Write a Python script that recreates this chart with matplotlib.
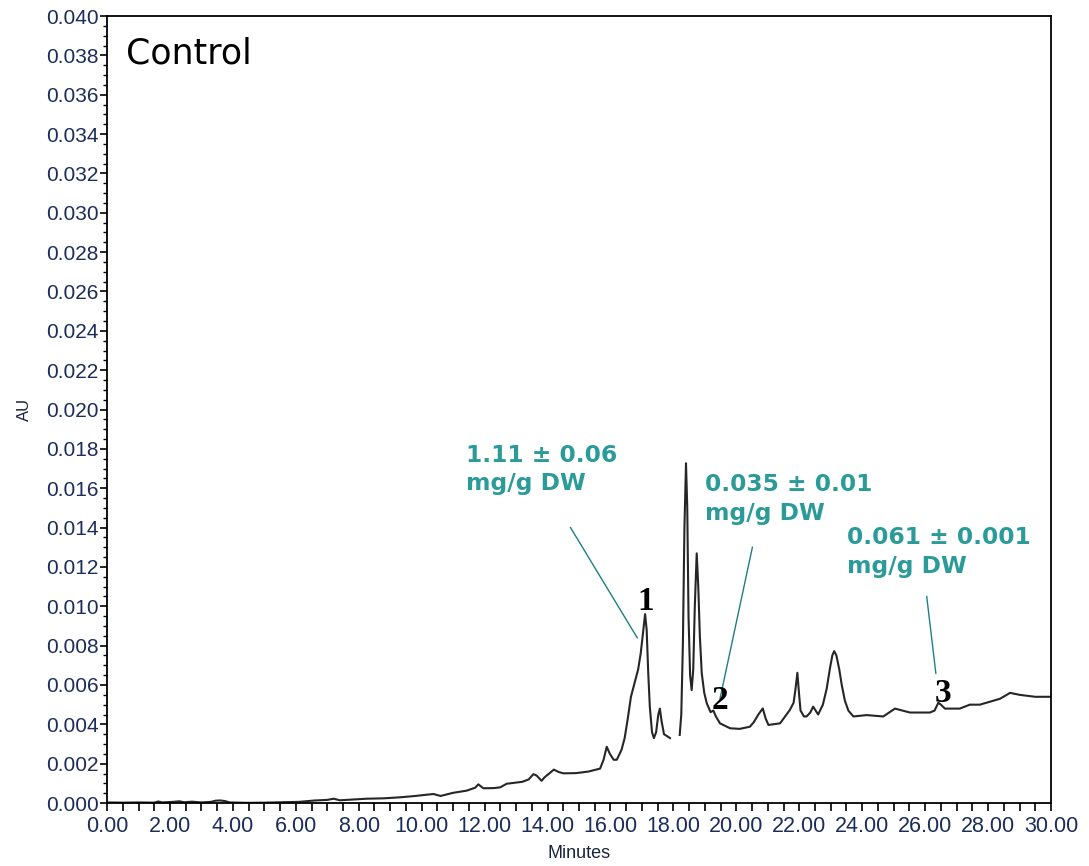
import numpy as np
import matplotlib.pyplot as plt
from matplotlib.ticker import MultipleLocator, FormatStrFormatter

# retention time (min) and absorbance (AU) of the chromatogram trace
# the recorder trace breaks between 17.9 and 18.2 min
time_min = [
    0.0, 0.5, 1.0, 1.5, 1.63, 1.75, 2.1, 2.3, 2.45, 2.7, 3.0, 3.3, 3.45, 3.6, 3.75, 3.9,
    4.5, 5.0, 5.6, 6.1, 6.6, 7.0, 7.2, 7.4, 7.8, 8.25, 8.8, 9.3, 9.8, 10.37, 10.6, 11.0,
    11.43, 11.7, 11.8, 11.96, 12.3, 12.5, 12.7, 13.2, 13.4, 13.55, 13.65, 13.81, 13.9,
    14.05, 14.2, 14.35, 14.5, 14.9, 15.3, 15.67, 15.78, 15.88, 15.98, 16.1, 16.2,
    16.35, 16.45, 16.55, 16.65, 16.78, 16.88, 16.96, 17.03, 17.10, 17.15, 17.20, 17.25,
    17.32, 17.38, 17.45, 17.52, 17.57, 17.62, 17.70, 17.80, 17.89, np.nan,
    18.20, 18.25, 18.30, 18.35, 18.40, 18.44, 18.48, 18.53, 18.58, 18.63, 18.68, 18.74,
    18.79, 18.84, 18.90, 18.98, 19.06, 19.18, 19.27, 19.35, 19.48, 19.80, 20.11, 20.43,
    20.55, 20.70, 20.84, 20.93, 21.02, 21.39, 21.70, 21.82, 21.88, 21.94, 21.99, 22.04,
    22.15, 22.23, 22.35, 22.44, 22.52, 22.60, 22.75, 22.87, 22.97, 23.05, 23.11, 23.18,
    23.27, 23.35, 23.45, 23.56, 23.72, 24.14, 24.67, 25.04, 25.52, 26.15, 26.3, 26.42,
    26.5, 26.63, 27.10, 27.42, 27.74, 28.38, 28.7, 29.0, 29.5, 30.0,
]
absorbance = [
    0.00003, 0.00002, 0.00003, 0.00002, 0.00008, 0.00003, 0.00006, 0.00009, 0.00004,
    0.00007, 0.00003, 0.00006, 0.00012, 0.00013, 0.00010, 0.00003,
    0.00001, 0.00002, 0.00004, 0.00006, 0.00013, 0.00016, 0.00022, 0.00014, 0.00018,
    0.00022, 0.00024, 0.00029, 0.00036, 0.00046, 0.00036, 0.00052,
    0.00063, 0.00078, 0.00095, 0.00075, 0.00076, 0.00080, 0.00098, 0.00108, 0.00120,
    0.00147, 0.00140, 0.00113, 0.00130,
    0.00150, 0.00170, 0.00158, 0.00151, 0.00152, 0.00160, 0.00175, 0.00220, 0.00286,
    0.00250, 0.00220, 0.00220,
    0.00270, 0.00330, 0.00430, 0.00540, 0.00620, 0.00680, 0.00760, 0.00860, 0.00960,
    0.00880, 0.00660, 0.00490,
    0.00360, 0.00330, 0.00360, 0.00450, 0.00480, 0.00420, 0.00350, 0.00340, 0.00330, np.nan,
    0.00346, 0.00450, 0.00800, 0.01400, 0.01727, 0.01500, 0.00950, 0.00650, 0.00574,
    0.00680, 0.01000, 0.01269,
    0.01100, 0.00850, 0.00660, 0.00560, 0.00507, 0.00462, 0.00470, 0.00440, 0.00405,
    0.00380, 0.00377, 0.00388,
    0.00410, 0.00450, 0.00481, 0.00430, 0.00397, 0.00405, 0.00473, 0.00510, 0.00580,
    0.00662, 0.00560, 0.00470,
    0.00440, 0.00440, 0.00460, 0.00490, 0.00470, 0.00450, 0.00500, 0.00580, 0.00680,
    0.00750, 0.00772, 0.00750,
    0.00680, 0.00600, 0.00520, 0.00470, 0.00440, 0.00447, 0.00440, 0.00480, 0.00460,
    0.00460, 0.00470, 0.00510,
    0.00500, 0.00480, 0.00480, 0.00500, 0.00500, 0.00530, 0.00560, 0.00550, 0.00540,
    0.00540,
]

# peak numbers and where their baselines sit
peak_labels = ["1", "2", "3"]
peak_times = [17.12, 19.48, 26.57]
peak_label_y = [0.00982, 0.00478, 0.00515]

# quantification notes, leader line start (near text) and end (at peak)
notes = [("1.11 ± 0.06", "mg/g DW"), ("0.035 ± 0.01", "mg/g DW"), ("0.061 ± 0.001", "mg/g DW")]
note_x = [11.41, 19.00, 23.51]
note_y = [0.01735, 0.01585, 0.01315]
leader_from = [(14.73, 0.0140), (20.51, 0.0130), (26.05, 0.0105)]
leader_to = [(16.85, 0.0084), (19.48, 0.0053), (26.34, 0.0066)]

teal = "#2a9b99"
navy = "#1c2d5a"

fig = plt.figure(figsize=(10.89, 8.66), dpi=100)
ax = fig.add_axes([0.0983, 0.0727, 0.8668, 0.9088])

ax.plot(time_min, absorbance, color="#262626", lw=1.5, solid_joinstyle="round")

ax.set_xlim(0, 30)
ax.set_ylim(0, 0.040)
ax.xaxis.set_major_locator(MultipleLocator(2))
ax.xaxis.set_minor_locator(MultipleLocator(0.5))
ax.yaxis.set_major_locator(MultipleLocator(0.002))
ax.yaxis.set_minor_locator(MultipleLocator(0.0005))
ax.xaxis.set_major_formatter(FormatStrFormatter("%.2f"))
ax.yaxis.set_major_formatter(FormatStrFormatter("%.3f"))

for s in ax.spines.values():
    s.set_linewidth(1.3)
ax.tick_params(axis="x", which="both", direction="out", length=6, width=1.2,
               labelsize=15.5, labelcolor=navy, pad=3)
ax.tick_params(axis="y", which="major", direction="out", length=5, width=1.2,
               labelsize=15, labelcolor=navy, pad=1)
ax.tick_params(axis="y", which="minor", direction="out", length=3, width=1.0)
for lab in ax.get_xticklabels() + ax.get_yticklabels():
    lab.set_family("Liberation Sans")

ax.set_xlabel("Minutes", family="Liberation Sans", fontsize=13, color="#1a2440", labelpad=6)
ax.set_ylabel("AU", family="Liberation Sans", fontsize=12, color="#1a2440", labelpad=10)

ax.text(0.6, 0.0376, "Control", fontsize=25, family="DejaVu Sans", va="baseline")

for lab, t, y in zip(peak_labels, peak_times, peak_label_y):
    ax.text(t, y, lab, fontsize=24, family="Liberation Serif", fontweight="bold",
            ha="center", va="baseline")

for (l1, l2), x, y in zip(notes, note_x, note_y):
    ax.text(x, y, l1, color=teal, fontsize=16.8, fontweight="bold", va="baseline")
    ax.text(x, y - 0.00145, l2, color=teal, fontsize=16.8, fontweight="bold", va="baseline")

for (x0, y0), (x1, y1) in zip(leader_from, leader_to):
    ax.plot([x0, x1], [y0, y1], color="#1f7f84", lw=1.0)

fig.savefig("out.png", dpi=100)
